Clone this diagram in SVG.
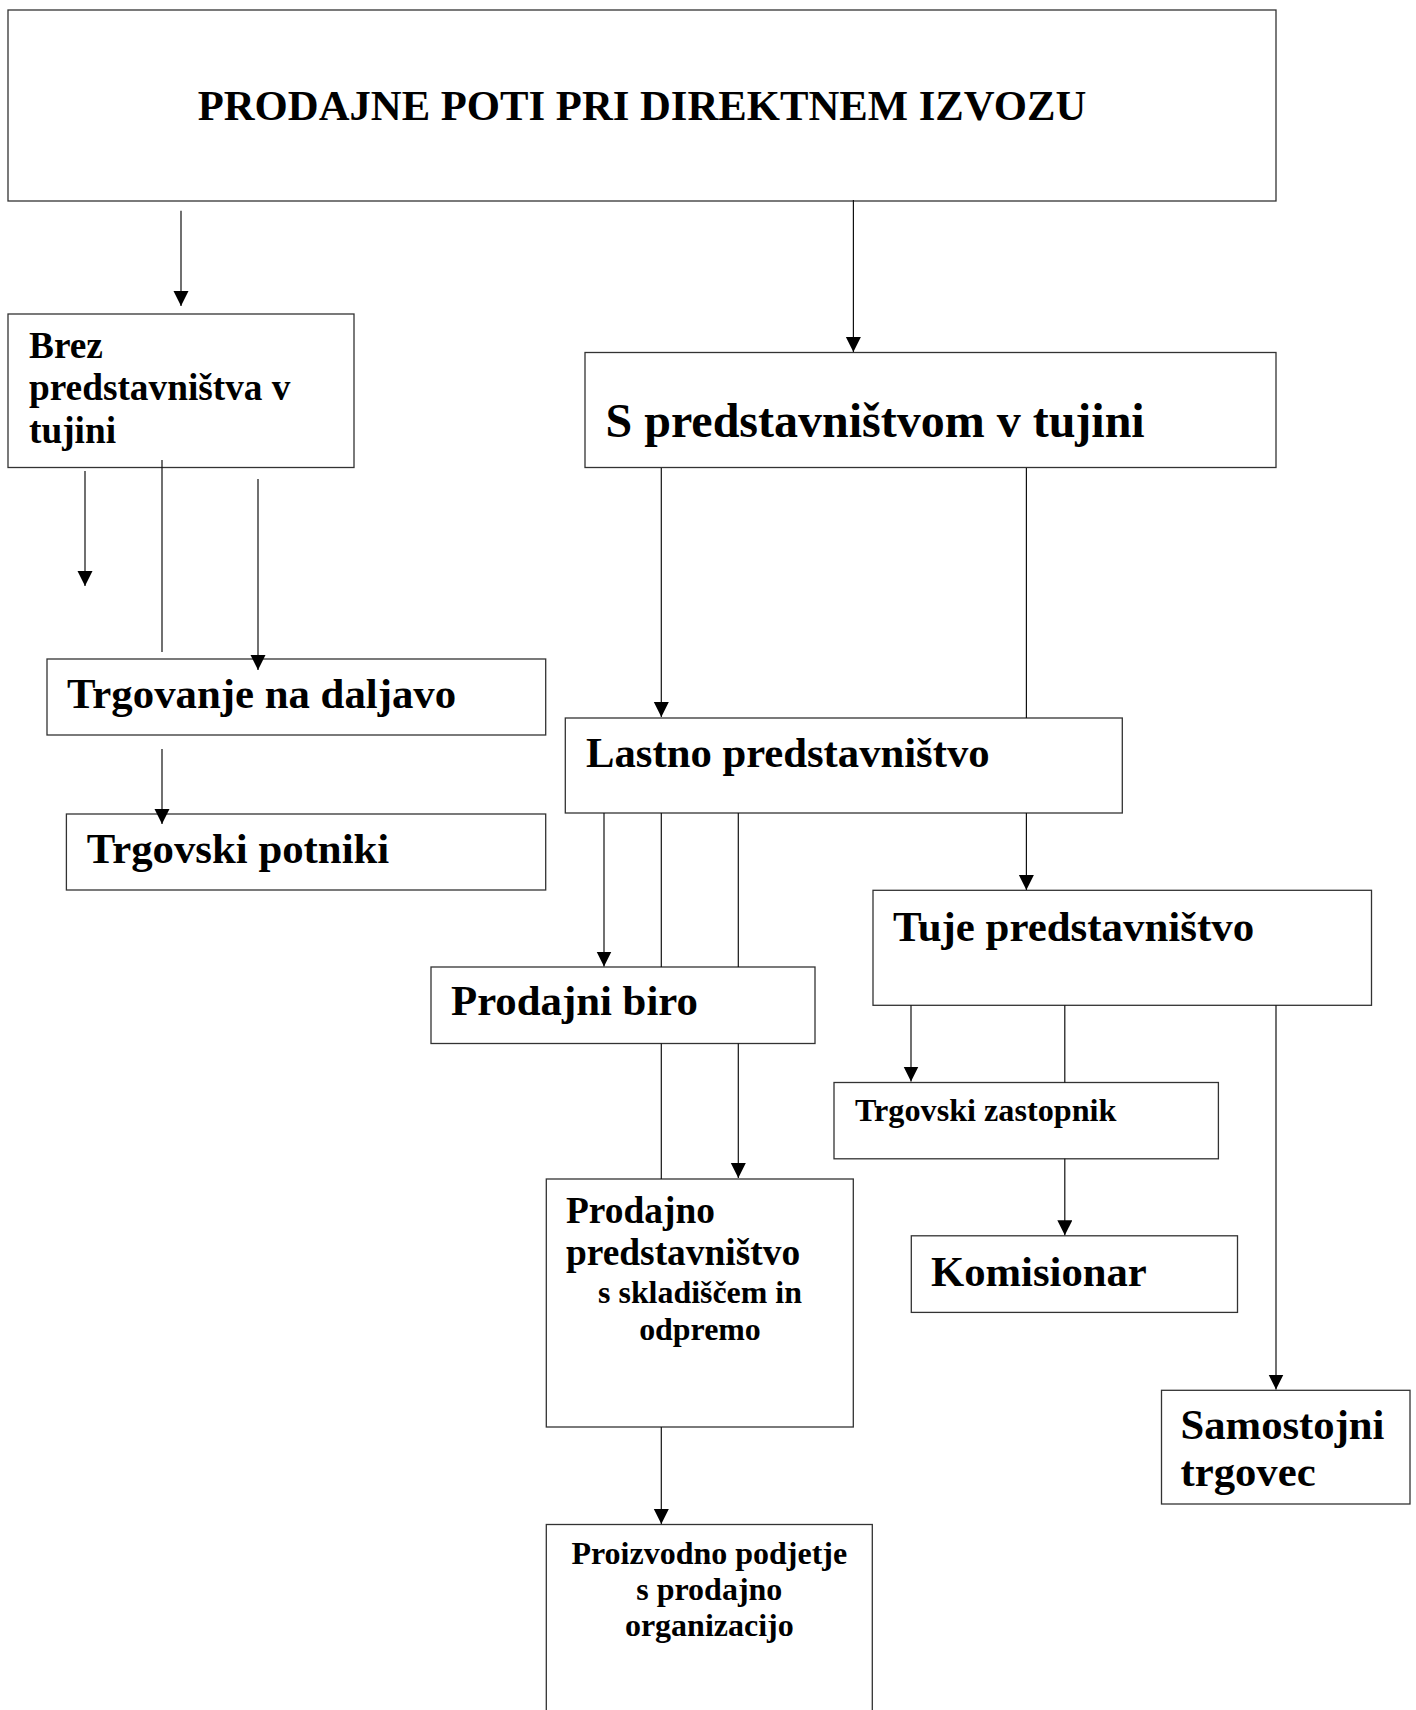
<svg xmlns="http://www.w3.org/2000/svg" width="1416" height="1710" viewBox="0 0 1416 1710">
<style>
.box{fill:#fff;stroke:#333;stroke-width:1.3}
.t{font-family:"Liberation Serif","Times New Roman",serif;font-weight:bold;fill:#000}
.c line{stroke:#111;stroke-width:1.2}
</style>
<defs>
<marker id="ah" markerUnits="userSpaceOnUse" markerWidth="16" markerHeight="16" viewBox="0 0 16 16" refX="15" refY="7.5" orient="auto">
<path d="M0,0 L15,7.5 L0,15 z" fill="#000"/>
</marker>
</defs>
<rect width="1416" height="1710" fill="#fff"/>
<g id="title">
<rect class="box" x="8" y="10" width="1268" height="191"/>
<text class="t" x="642" y="120" font-size="42.7" text-anchor="middle">PRODAJNE POTI PRI DIREKTNEM IZVOZU</text>
</g>
<g id="brez">
<rect class="box" x="8" y="314" width="346" height="153.5"/>
<text class="t" font-size="37.3"><tspan x="29" y="358">Brez</tspan><tspan x="29" y="400">predstavništva v</tspan><tspan x="29" y="443">tujini</tspan></text>
</g>
<g id="s-pred">
<rect class="box" x="585" y="352.5" width="691" height="115"/>
<text class="t" x="605.5" y="436.5" font-size="48">S predstavništvom v tujini</text>
</g>
<g id="trgovanje">
<rect class="box" x="47" y="659" width="498.7" height="76"/>
<text class="t" x="67" y="707.5" font-size="42.8">Trgovanje na daljavo</text>
</g>
<g id="potniki">
<rect class="box" x="66.4" y="814" width="479.3" height="76"/>
<text class="t" x="86.8" y="862.5" font-size="42.8">Trgovski potniki</text>
</g>
<g id="lastno">
<rect class="box" x="565.3" y="718" width="557" height="95"/>
<text class="t" x="586" y="767.4" font-size="42.7">Lastno predstavništvo</text>
</g>
<g id="tuje">
<rect class="box" x="873" y="890.3" width="498.5" height="115"/>
<text class="t" x="893" y="940.5" font-size="42.9">Tuje predstavništvo</text>
</g>
<g id="biro">
<rect class="box" x="431" y="967" width="384" height="76.5"/>
<text class="t" x="451" y="1015" font-size="42.8">Prodajni biro</text>
</g>
<g id="zastopnik">
<rect class="box" x="834" y="1082.5" width="384.4" height="76.3"/>
<text class="t" x="855" y="1121" font-size="32.2">Trgovski zastopnik</text>
</g>
<g id="komisionar">
<rect class="box" x="911.3" y="1235.8" width="326.2" height="76.6"/>
<text class="t" x="931" y="1286" font-size="42.7">Komisionar</text>
</g>
<g id="prodajno">
<rect class="box" x="546.3" y="1179" width="307" height="248"/>
<text class="t" font-size="37.4"><tspan x="566" y="1223.3">Prodajno</tspan><tspan x="566" y="1265">predstavništvo</tspan></text>
<text class="t" font-size="31.9" text-anchor="middle"><tspan x="700" y="1303.4">s skladiščem in</tspan><tspan x="700" y="1339.7">odpremo</tspan></text>
</g>
<g id="samostojni">
<rect class="box" x="1161.5" y="1390.3" width="248.5" height="113.7"/>
<text class="t" font-size="42.7"><tspan x="1180.5" y="1438.7">Samostojni</tspan><tspan x="1180.5" y="1486">trgovec</tspan></text>
</g>
<g id="proizvodno">
<rect class="box" x="546.3" y="1524.5" width="326" height="200"/>
<text class="t" font-size="32" text-anchor="middle"><tspan x="709.3" y="1564">Proizvodno podjetje</tspan><tspan x="709.3" y="1600">s prodajno</tspan><tspan x="709.3" y="1636.3">organizacijo</tspan></text>
</g>
<g id="connectors" class="c">
<line x1="181" y1="210.7" x2="181" y2="306" marker-end="url(#ah)"/>
<line x1="853.4" y1="200" x2="853.4" y2="352" marker-end="url(#ah)"/>
<line x1="85" y1="471" x2="85" y2="586" marker-end="url(#ah)"/>
<line x1="162" y1="460" x2="162" y2="652"/>
<line x1="258" y1="479" x2="258" y2="670" marker-end="url(#ah)"/>
<line x1="162" y1="749" x2="162" y2="824" marker-end="url(#ah)"/>
<line x1="661.3" y1="468" x2="661.3" y2="717" marker-end="url(#ah)"/>
<line x1="1026.4" y1="468" x2="1026.4" y2="718"/>
<line x1="604" y1="813" x2="604" y2="966.5" marker-end="url(#ah)"/>
<line x1="661.3" y1="813" x2="661.3" y2="967"/>
<line x1="738.3" y1="813" x2="738.3" y2="967"/>
<line x1="1026.4" y1="813" x2="1026.4" y2="890" marker-end="url(#ah)"/>
<line x1="911" y1="1005.3" x2="911" y2="1081.5" marker-end="url(#ah)"/>
<line x1="1064.8" y1="1005.3" x2="1064.8" y2="1082.5"/>
<line x1="661.3" y1="1043.5" x2="661.3" y2="1179"/>
<line x1="738.3" y1="1043.5" x2="738.3" y2="1178" marker-end="url(#ah)"/>
<line x1="1064.8" y1="1158.8" x2="1064.8" y2="1235.3" marker-end="url(#ah)"/>
<line x1="1276" y1="1005.3" x2="1276" y2="1389.5" marker-end="url(#ah)"/>
<line x1="661.3" y1="1427" x2="661.3" y2="1524" marker-end="url(#ah)"/>
</g>
</svg>
